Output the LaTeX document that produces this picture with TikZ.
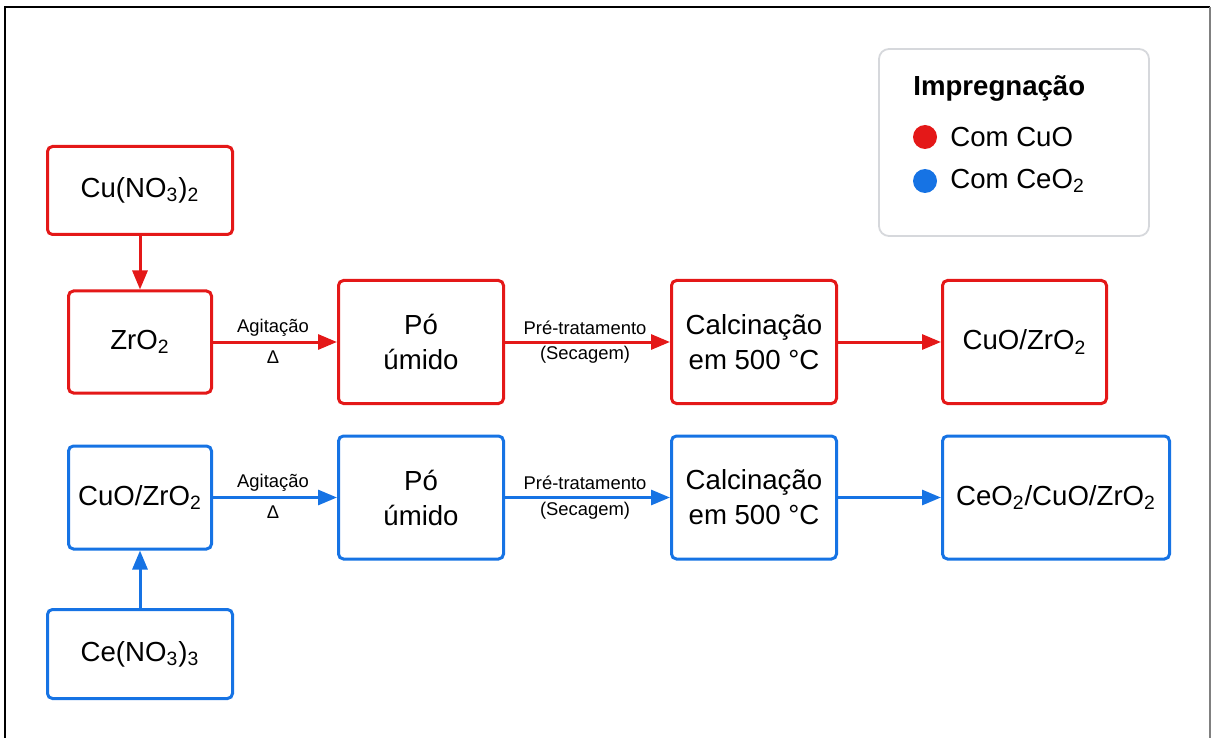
\documentclass[tikz,border=0pt]{standalone}
\usepackage{fontspec}
\setmainfont{Liberation Sans}
\usetikzlibrary{arrows.meta}
\definecolor{cured}{RGB}{228,24,24}
\definecolor{ceblue}{RGB}{22,115,228}
\definecolor{legendgray}{RGB}{214,216,220}

\begin{document}
\begin{tikzpicture}[x=0.5pt, y=-0.5pt, font=\fontsize{13.8}{17.5}\selectfont]
%% one unit is one pixel of the original flowchart (y grows downwards)
%% boxes are placed at fixed coordinates, arcs go from box to box
\tikzstyle{box}=[draw, rounded corners=2.5pt, line width=1.5pt, align=center, inner sep=0pt]
\tikzstyle{redbox}=[box, draw=cured]
\tikzstyle{bluebox}=[box, draw=ceblue]
\tikzstyle{arc}=[-{Triangle[length=9.5pt,width=7.5pt]}, line width=1.5pt]
\tikzstyle{redarc}=[arc, draw=cured]
\tikzstyle{bluearc}=[arc, draw=ceblue]
\tikzstyle{arclabel}=[font=\fontsize{9.2}{11}\selectfont, inner sep=0pt]
\tikzstyle{legenddot}=[circle, minimum size=12pt, inner sep=0pt]
\useasboundingbox (0,0) rectangle (1212,738);
%% frame
\draw[line width=1.2pt] (5,738) -- (5,7) -- (1210,7);
\draw[line width=0.8pt, gray] (1210,7) -- (1210,738);
%% TikZ-figure elements: impregnation with CuO %%
\node[redbox, minimum width=92.5pt, minimum height=44pt] at (140,190.5) (cuno3) {Cu(NO\textsubscript{3})\textsubscript{2}};
\node[redbox, minimum width=71.5pt, minimum height=51pt] at (140,342) (zro2) {ZrO\textsubscript{2}};
\node[redbox, minimum width=82.5pt, minimum height=61.5pt] at (421,342) (pored) {Pó\\úmido};
\node[redbox, minimum width=82.5pt, minimum height=61.5pt] at (754,342) (calcred) {Calcinação\\em 500 °C};
\node[redbox, minimum width=82pt, minimum height=61.5pt] at (1024.5,342) (cuozro2) {CuO/ZrO\textsubscript{2}};
\draw[redarc] (cuno3) -- (zro2);
\draw[redarc] (zro2) -- (pored);
%% label for arc between zro2 and pored
\node[arclabel] at (273,328) (agitred) {Agitação};
\node[arclabel] at (273,357) (deltared) {Δ};
\draw[redarc] (pored) -- (calcred);
%% label for arc between pored and calcred
\node[arclabel] at (585,328) (pretred) {Pré-tratamento};
\node[arclabel] at (585,355) (secred) {(Secagem)};
\draw[redarc] (calcred) -- (cuozro2);
%% TikZ-figure elements: impregnation with CeO2 %%
\node[bluebox, minimum width=71.5pt, minimum height=51.5pt] at (140,497.5) (cuozrob) {CuO/ZrO\textsubscript{2}};
\node[bluebox, minimum width=92.5pt, minimum height=44.5pt] at (140,654) (ceno3) {Ce(NO\textsubscript{3})\textsubscript{3}};
\node[bluebox, minimum width=82.5pt, minimum height=61.5pt] at (421,497.5) (poblue) {Pó\\úmido};
\node[bluebox, minimum width=82.5pt, minimum height=61.5pt] at (754,497.5) (calcblue) {Calcinação\\em 500 °C};
\node[bluebox, minimum width=113.5pt, minimum height=61.5pt] at (1056,497.5) (ceocuo) {CeO\textsubscript{2}/CuO/ZrO\textsubscript{2}};
\draw[bluearc] (ceno3) -- (cuozrob);
\draw[bluearc] (cuozrob) -- (poblue);
%% label for arc between cuozrob and poblue
\node[arclabel] at (273,483) (agitblue) {Agitação};
\node[arclabel] at (273,512) (deltablue) {Δ};
\draw[bluearc] (poblue) -- (calcblue);
%% label for arc between poblue and calcblue
\node[arclabel] at (585,483) (pretblue) {Pré-tratamento};
\node[arclabel] at (585,511) (secblue) {(Secagem)};
\draw[bluearc] (calcblue) -- (ceocuo);
%% legend
\draw[legendgray, line width=0.9pt, rounded corners=5pt] (879,49) rectangle (1149,236);
\node[anchor=west, inner sep=0pt, font=\fontsize{13.8}{17.5}\selectfont\bfseries] at (913,88) (legtitle) {Impregnação};
\node[legenddot, fill=cured] at (925,137) (dotred) {};
\node[anchor=west, inner sep=0pt] at (950,137) (legred) {Com CuO};
\node[legenddot, fill=ceblue] at (925,181) (dotblue) {};
\node[anchor=west, inner sep=0pt] at (950,181) (legblue) {Com CeO\textsubscript{2}};
\end{tikzpicture}
\end{document}
